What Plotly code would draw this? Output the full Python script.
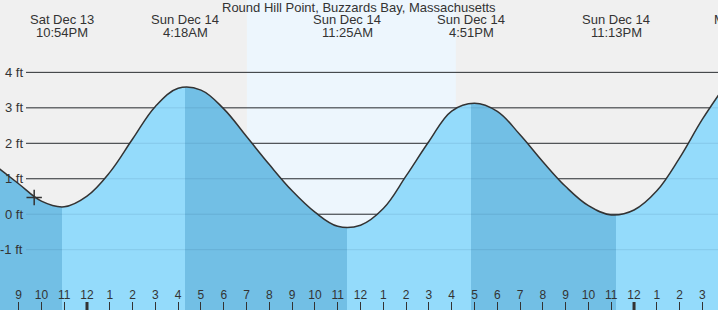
import pandas as pd
import plotly.graph_objects as go

TITLE = "Round Hill Point, Buzzards Bay, Massachusetts"
REF = pd.Timestamp("2025-12-14 00:00")

# tide extremes (from the header labels)
event_times = ["2025-12-13 22:54", "2025-12-14 04:18", "2025-12-14 11:25",
               "2025-12-14 16:51", "2025-12-14 23:13"]
event_day = ["Sat Dec 13", "Sun Dec 14", "Sun Dec 14", "Sun Dec 14", "Sun Dec 14"]
event_clock = ["10:54PM", "4:18AM", "11:25AM", "4:51PM", "11:13PM"]
next_event_time = "2025-12-15 05:03"
next_event_day = "Mon Dec 15"

# water level (ft), hourly from Sat 8PM to Mon 4AM
reading_start = "2025-12-13 20:00"
reading_ft = [1.36, 0.86, 0.37, 0.21,            # 8PM .. 11PM
              0.51, 1.18, 2.12, 3.04, 3.55,      # 12AM .. 4AM
              3.50, 2.97, 2.19, 1.40, 0.66,      # 5AM .. 9AM
              0.06, -0.34, -0.31, 0.16, 1.08,    # 10AM .. 2PM
              2.05, 2.91, 3.13, 2.90, 2.24,      # 3PM .. 7PM
              1.48, 0.78, 0.24, -0.02,           # 8PM .. 11PM
              0.12, 0.66, 1.59, 2.68, 3.63]      # 12AM .. 4AM

sunrise = "2025-12-14 07:01"
sunset = "2025-12-14 16:11"
now_time = "2025-12-13 21:41"
now_ft = 0.47

view_start = "2025-12-13 20:11"
view_end = "2025-12-15 03:41"
y_range = [-2.70, 6.04]

grid_ft = [-1, 0, 1, 2, 3, 4]
grid_labels = ["-1 ft", "0 ft", "1 ft", "2 ft", "3 ft", "4 ft"]

tick_start = "2025-12-13 21:00"
tick_labels = ["9", "10", "11", "12", "1", "2", "3", "4", "5", "6", "7", "8",
               "9", "10", "11", "12", "1", "2", "3", "4", "5", "6", "7", "8",
               "9", "10", "11", "12", "1", "2", "3"]
midnights = ["2025-12-14 00:00", "2025-12-15 00:00"]

# colours
SKY_NIGHT = "#f0f0f0"
SKY_DAY = "#edf6fd"
WATER_RISE = "#94dbfb"
WATER_FALL = "#72bfe5"
INK = "#333333"
FONT = "Liberation Sans, Arial, sans-serif"


def hrs(t):
    return (pd.Timestamp(t) - REF) / pd.Timedelta(hours=1)


x0, x1 = hrs(view_start), hrs(view_end)
ev_h = [hrs(t) for t in event_times]
r0 = hrs(reading_start)
cx = [r0 + i for i in range(len(reading_ft))]
cy = reading_ft

# stepped horizontal colour scale: falling tide darker, rising tide lighter
span = x1 - x0
cs = [[0.0, WATER_FALL]]
colors = [WATER_RISE, WATER_FALL]
for i, h in enumerate(ev_h):
    f = (h - x0) / span
    prev = cs[-1][1]
    nxt = colors[i % 2]
    cs.append([f, prev])
    cs.append([f, nxt])
cs.append([1.0, cs[-1][1]])

fig = go.Figure()
fig.add_trace(go.Scatter(x=[cx[0], cx[-1]], y=[y_range[0] - 1, y_range[0] - 1],
                         mode="lines", line=dict(width=0), hoverinfo="skip",
                         showlegend=False))
fig.add_trace(go.Scatter(x=cx, y=cy, mode="lines", fill="tonexty",
                         line=dict(color=INK, width=1.5, shape="spline", smoothing=1.1),
                         fillgradient=dict(type="horizontal", start=x0, stop=x1,
                                           colorscale=cs),
                         hoverinfo="skip", showlegend=False))
fig.add_trace(go.Scatter(x=[hrs(now_time)], y=[now_ft], mode="markers",
                         marker=dict(symbol="cross-thin", size=11,
                                     line=dict(color=INK, width=1.5)),
                         hoverinfo="skip", showlegend=False))

W, H = 718, 310
shapes = [dict(type="rect", xref="x", yref="paper", x0=hrs(sunrise), x1=hrs(sunset),
               y0=0, y1=1, fillcolor=SKY_DAY, line=dict(width=0), layer="below")]
for g in grid_ft:
    shapes.append(dict(type="line", xref="paper", yref="y", x0=26 / W, x1=1, y0=g, y1=g,
                       line=dict(color=INK, width=1), layer="below"))
for g in grid_ft:
    shapes.append(dict(type="line", xref="paper", yref="y", x0=26 / W, x1=1, y0=g, y1=g,
                       line=dict(color="rgba(0,40,80,0.10)", width=1), layer="above"))
for m in midnights:
    shapes.append(dict(type="line", xref="x", yref="paper", x0=hrs(m), x1=hrs(m),
                       y0=0, y1=8 / H, line=dict(color=INK, width=3), layer="above"))

ann = [dict(text=TITLE, xref="paper", yref="paper", x=0.5, y=1 - 7.5 / H,
            showarrow=False, xanchor="center", yanchor="middle",
            font=dict(family=FONT, size=13, color=INK))]
for h, d, c in zip(ev_h, event_day, event_clock):
    ann.append(dict(text=d, xref="x", yref="paper", x=h, y=1 - 19.5 / H, showarrow=False,
                    xanchor="center", yanchor="middle", font=dict(family=FONT, size=13, color=INK)))
    ann.append(dict(text=c, xref="x", yref="paper", x=h, y=1 - 32 / H, showarrow=False,
                    xanchor="center", yanchor="middle", font=dict(family=FONT, size=13, color=INK)))
ann.append(dict(text=next_event_day, xref="paper", yref="paper",
                x=(hrs(next_event_time) - x0) / span, y=1 - 19.5 / H, showarrow=False,
                xanchor="center", yanchor="middle", font=dict(family=FONT, size=13, color=INK)))
for g, lab in zip(grid_ft, grid_labels):
    ann.append(dict(text=lab, xref="paper", yref="y", x=24.5 / W, y=g, showarrow=False,
                    xanchor="right", yanchor="middle",
                    font=dict(family=FONT, size=13, color=INK)))

t0 = hrs(tick_start)
tick_vals = [t0 + i for i in range(len(tick_labels))]

fig.update_layout(
    width=W, height=H, margin=dict(l=0, r=0, t=0, b=0),
    paper_bgcolor=SKY_NIGHT, plot_bgcolor=SKY_NIGHT,
    shapes=shapes, annotations=ann, showlegend=False,
    xaxis=dict(range=[x0, x1], showgrid=False, zeroline=False, showline=False,
               tickmode="array", tickvals=tick_vals, ticktext=tick_labels,
               ticks="inside", ticklen=8, tickwidth=1, tickcolor=INK,
               ticklabelposition="inside", ticklabelstandoff=0,
               tickfont=dict(family=FONT, size=12, color=INK), fixedrange=True),
    yaxis=dict(range=y_range, showgrid=False, zeroline=False, showline=False,
               showticklabels=False, ticks="", fixedrange=True),
)

fig.write_html("out.html", config=dict(displayModeBar=False))
